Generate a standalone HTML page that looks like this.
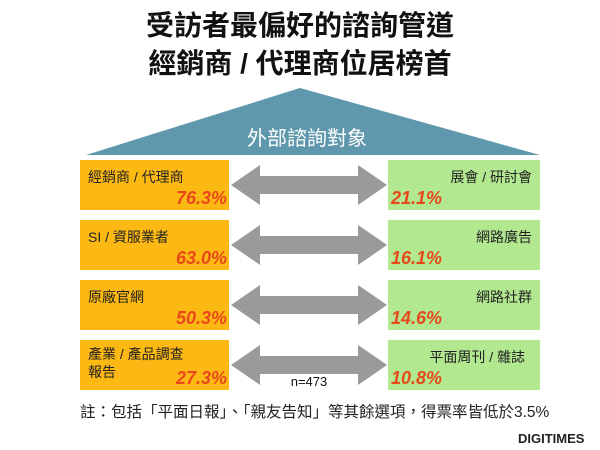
<!DOCTYPE html>
<html><head><meta charset="utf-8"><style>
body{margin:0;width:600px;height:450px;background:#fff;position:relative;overflow:hidden;font-family:"Liberation Sans","Noto Sans CJK TC",sans-serif}
.t{position:absolute;left:0;width:600px;text-align:center;font-weight:bold;font-size:28px;color:#111}
.b{position:absolute;height:50px}
.l{left:80px;width:149px;background:#fdb913}
.r{left:388px;width:152px;background:#b2e890}
.lab{position:absolute;top:8px;font-size:14px;color:#222;line-height:18px}
.p{position:absolute;bottom:1px;font-size:18px;font-weight:bold;font-style:italic;color:#e8481a}
</style></head><body>
<div class="t" style="top:4px">受訪者最偏好的諮詢管道</div>
<div class="t" style="top:42px">經銷商 / 代理商位居榜首</div>
<svg style="position:absolute;left:0;top:0" width="600" height="450">
<polygon points="300,88 540,155 86,155" fill="#5f98ad"/>
<text x="307" y="145" font-size="20" fill="#fff" text-anchor="middle" font-family="Liberation Sans,Noto Sans CJK TC,sans-serif">外部諮詢對象</text>
<g fill="#9a9a9a">
<polygon points="231,185 260,165 260,176 358,176 358,165 387,185 358,205 358,194 260,194 260,205"/>
<polygon points="231,245 260,225 260,236 358,236 358,225 387,245 358,265 358,254 260,254 260,265"/>
<polygon points="231,305 260,285 260,296 358,296 358,285 387,305 358,325 358,314 260,314 260,325"/>
<polygon points="231,365 260,345 260,356 358,356 358,345 387,365 358,385 358,374 260,374 260,385"/>
</g>
<text x="309" y="386" font-size="13" text-anchor="middle" fill="#111" font-family="Liberation Sans,sans-serif">n=473</text>
</svg>
<div class="b l" style="top:160px"><div class="lab" style="left:8px">經銷商 / 代理商</div><div class="p" style="right:2px">76.3%</div></div>
<div class="b l" style="top:220px"><div class="lab" style="left:8px">SI / 資服業者</div><div class="p" style="right:2px">63.0%</div></div>
<div class="b l" style="top:280px"><div class="lab" style="left:8px">原廠官網</div><div class="p" style="right:2px">50.3%</div></div>
<div class="b l" style="top:340px"><div class="lab" style="left:8px;top:5px">產業 / 產品調查<br>報告</div><div class="p" style="right:2px">27.3%</div></div>
<div class="b r" style="top:160px"><div class="lab" style="right:8px">展會 / 研討會</div><div class="p" style="left:3px">21.1%</div></div>
<div class="b r" style="top:220px"><div class="lab" style="right:8px">網路廣告</div><div class="p" style="left:3px">16.1%</div></div>
<div class="b r" style="top:280px"><div class="lab" style="right:8px">網路社群</div><div class="p" style="left:3px">14.6%</div></div>
<div class="b r" style="top:340px"><div class="lab" style="right:15px">平面周刊 / 雜誌</div><div class="p" style="left:3px">10.8%</div></div>
<div style="position:absolute;left:80px;top:400px;font-size:15.5px;color:#222;white-space:nowrap">註：包括「平面日報」、「親友告知」等其餘選項，得票率皆低於3.5%</div>
<div style="position:absolute;left:518px;top:431px;font-size:13px;font-weight:bold;color:#222">DIGITIMES</div>
</body></html>
